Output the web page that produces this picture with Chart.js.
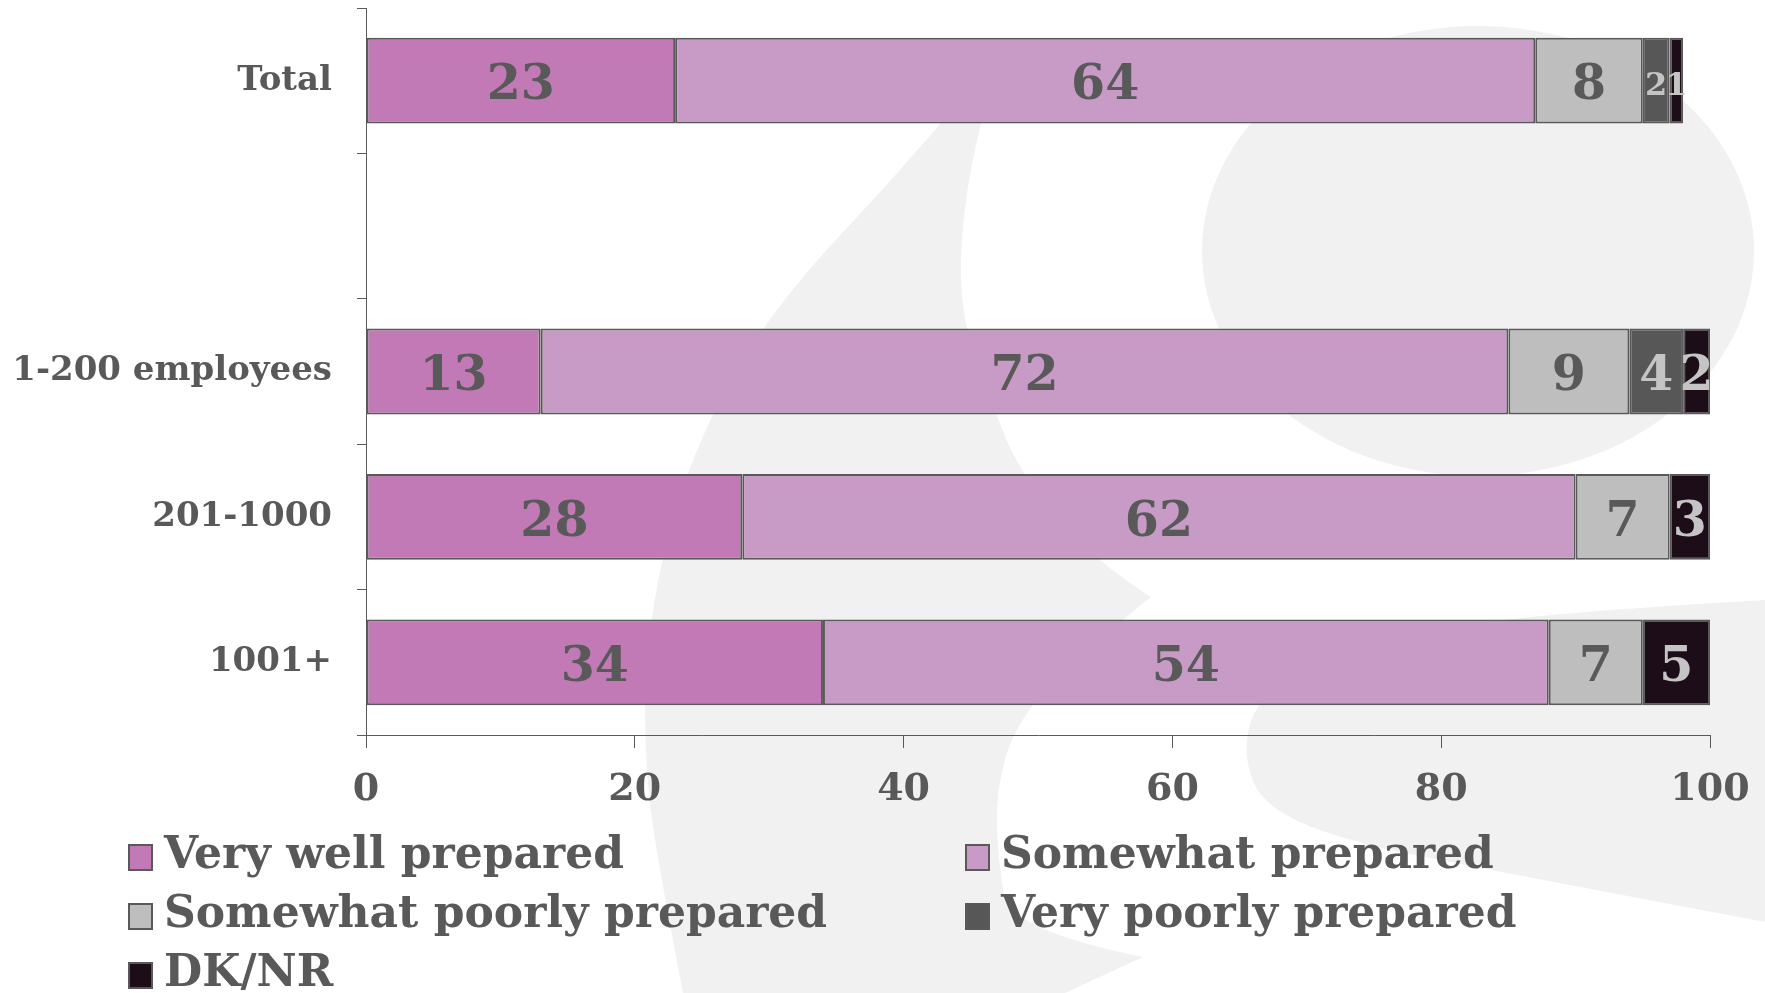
<!DOCTYPE html>
<html>
<head>
<meta charset="utf-8">
<script src="https://cdn.jsdelivr.net/npm/chart.js@4/dist/chart.umd.min.js"></script>
<style>
  html, body { margin: 0; padding: 0; background: #fff; }
  #wrap { width: 1765px; height: 993px; position: relative; }
</style>
</head>
<body>
<div id="wrap"><canvas id="myChart"></canvas></div>
<script>
// categories (the blank one leaves a gap under Total)
var groups = ['Total', '', '1-200 employees', '201-1000', '1001+'];
var seriesNames = ['Very well prepared', 'Somewhat prepared', 'Somewhat poorly prepared', 'Very poorly prepared', 'DK/NR'];

var veryWell     = [23, null, 13, 28, 34];
var somewhat     = [64, null, 72, 62, 54];
var somewhatPoor = [8,  null, 9,  7,  7];
var veryPoor     = [2,  null, 4,  0,  0];
var dkNr         = [1,  null, 2,  3,  5];

var xTicks = [0, 20, 40, 60, 80, 100];

var seriesValues = [veryWell, somewhat, somewhatPoor, veryPoor, dkNr];
var fills = ['#c17ab5', '#c79bc6', '#bfbebf', '#575757', '#1c0d18'];
var labelInk = ['#595959', '#595959', '#595959', '#c4c4c4', '#c4c4c4'];
var ink = '#595959';
var serif = '"DejaVu Serif", Georgia, serif';

// light grey logo shapes behind the plot
// a point with a third entry is a sharp corner, the rest are smoothed
var crescent = [[1000, 50, 1], [930, 140], [760, 320], [680, 480], [645, 640], [645, 780], [665, 900], [683, 993, 1],
                [1065, 993, 1], [1143, 957, 1], [1010, 930], [998, 860], [996, 790], [1015, 725], [1070, 662], [1151, 597, 1],
                [1093, 560], [1021, 475], [990, 400], [962, 320], [960, 240], [975, 140], [1000, 50, 1]];
var tongue = [[1765, 600, 1], [1500, 615], [1330, 650], [1255, 700], [1243, 755], [1262, 805], [1340, 840],
              [1500, 872], [1765, 922, 1], [1765, 600, 1]];

var watermark = {
  id: 'watermark',
  beforeDraw: function(chart) {
    var c = chart.ctx;
    c.save();
    c.fillStyle = '#f1f1f1';
    function outline(pts) {
      c.beginPath();
      c.moveTo(pts[0][0], pts[0][1]);
      for (var i = 1; i < pts.length; i++) {
        var p = pts[i];
        if (p[2] || i === pts.length - 1) {
          c.lineTo(p[0], p[1]);
          continue;
        }
        var n = pts[i + 1];
        var mx = n[2] ? n[0] : (p[0] + n[0]) / 2, my = n[2] ? n[1] : (p[1] + n[1]) / 2;
        c.quadraticCurveTo(p[0], p[1], mx, my);
      }
      c.closePath();
      c.fill();
    }
    outline(crescent);
    c.beginPath();
    c.ellipse(1478, 251, 276, 225, 0, 0, Math.PI * 2);
    c.fill();
    outline(tongue);
    c.restore();
  }
};

// numbers inside the segments
var segmentLabels = {
  id: 'segmentLabels',
  afterDatasetsDraw: function(chart) {
    var c = chart.ctx;
    c.save();
    c.textAlign = 'center';
    c.textBaseline = 'middle';
    chart.data.datasets.forEach(function(ds, i) {
      var meta = chart.getDatasetMeta(i);
      meta.data.forEach(function(bar, j) {
        var v = ds.data[j];
        if (!v) return;
        var prev = i > 0 ? chart.data.datasets[i - 1].data[j] : null;
        var next = i < chart.data.datasets.length - 1 ? chart.data.datasets[i + 1].data[j] : null;
        var tight = v <= 2 && ((prev && prev <= 2) || (next && next <= 2));
        c.font = 'bold ' + (tight ? 32 : 49) + 'px ' + serif;
        c.fillStyle = labelInk[i];
        c.fillText(String(v), (bar.x + bar.base) / 2, bar.y + 6);
      });
    });
    c.restore();
  }
};

// two-column legend under the axis
var gridLegend = {
  id: 'gridLegend',
  afterDraw: function(chart) {
    var c = chart.ctx;
    var top = chart.chartArea.bottom + 122;
    var cols = [129, 966];
    c.save();
    c.font = 'bold 44px ' + serif;
    c.textBaseline = 'middle';
    c.textAlign = 'left';
    chart.data.datasets.forEach(function(ds, i) {
      var x = cols[i % 2];
      var y = top + Math.floor(i / 2) * 59;
      c.fillStyle = ds.backgroundColor;
      c.fillRect(x, y - 12, 23, 25);
      c.strokeStyle = ink;
      c.lineWidth = 2;
      c.strokeRect(x, y - 12, 23, 25);
      c.fillStyle = ink;
      c.fillText(ds.label, x + 35, y);
    });
    c.restore();
  }
};

var ctx = document.getElementById('myChart').getContext('2d');
var myChart = new Chart(ctx, {
  type: 'bar',
  data: {
    labels: groups,
    datasets: seriesNames.map(function(name, i) {
      return {
        label: name,
        data: seriesValues[i].map(function(v) { return v || null; }),
        backgroundColor: fills[i],
        borderColor: ink,
        borderWidth: 2,
        borderSkipped: false,
        barPercentage: 1,
        categoryPercentage: 0.59
      };
    })
  },
  options: {
    indexAxis: 'y',
    responsive: true,
    maintainAspectRatio: false,
    animation: false,
    layout: { padding: { top: 8, right: 55, bottom: 178, left: 0 } },
    plugins: {
      legend: { display: false },
      tooltip: { enabled: false }
    },
    scales: {
      x: {
        stacked: true,
        min: 0,
        max: 100,
        afterFit: function(s) { s.height = 80; s.paddingLeft = 0; s.paddingRight = 0; },
        afterBuildTicks: function(s) { s.ticks = xTicks.map(function(v) { return { value: v }; }); },
        grid: { drawOnChartArea: false, tickLength: 13, color: ink },
        border: { color: ink, width: 1 },
        ticks: { color: ink, padding: 19, font: { family: serif, size: 38, weight: 'bold' } }
      },
      y: {
        stacked: true,
        afterFit: function(s) { s.width = 366; s.paddingTop = 0; s.paddingBottom = 0; },
        grid: { offset: true, drawOnChartArea: false, tickLength: 9, color: ink },
        border: { color: ink, width: 1 },
        ticks: { color: ink, padding: 25, font: { family: serif, size: 34, weight: 'bold' } }
      }
    }
  },
  plugins: [watermark, segmentLabels, gridLegend]
});
</script>
</body>
</html>
